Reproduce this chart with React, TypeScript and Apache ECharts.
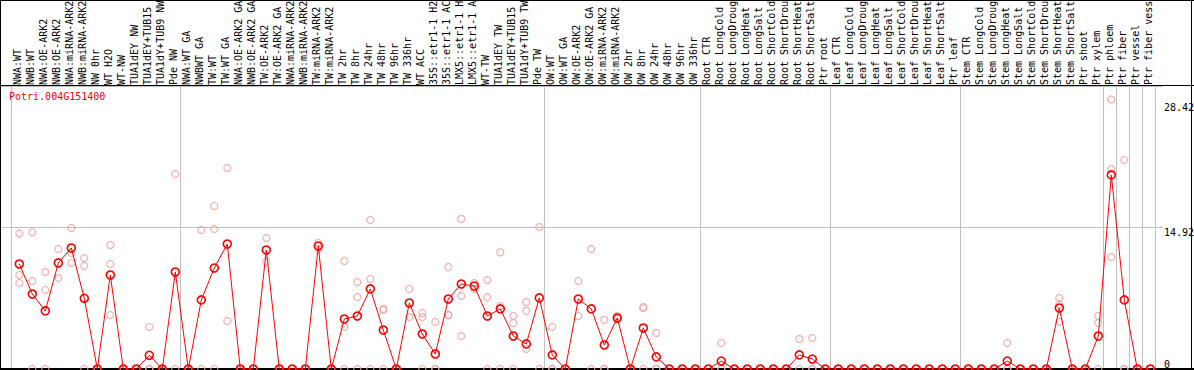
import React, { useEffect, useRef } from "react";
import * as echarts from "echarts";

const geneId = "Potri.004G151400";

const categories = [
  "NWA:WT", "NWB:WT", "NWA:OE-ARK2", "NWB:OE-ARK2", "NWA:miRNA-ARK2", "NWB:miRNA-ARK2",
  "NW 0hr", "WT H2O", "WT-NW", "TUA1dEY NW", "TUA1dEY+TUB15", "TUA1dY+TUB9 NW", "Pde NW",
  "NWA:WT GA", "NWBWT GA", "TW:WT", "TW:WT GA", "NWA:OE-ARK2 GA", "NWB:OE-ARK2 GA",
  "TW:OE-ARK2", "TW:OE-ARK2 GA", "NWA:miRNA-ARK2", "NWB:miRNA-ARK2", "TW:miRNA-ARK2",
  "TW:miRNA-ARK2", "TW 2hr", "TW 8hr", "TW 24hr", "TW 48hr", "TW 96hr", "TW 336hr",
  "WT ACC", "35S::etr1-1 H2", "35S::etr1-1 AC", "LMX5::etr1-1 H", "LMX5::etr1-1 A",
  "WT-TW", "TUA1dEY TW", "TUA1dEY+TUB15", "TUA1dY+TUB9 TW", "Pde TW",
  "OW:WT", "OW:WT GA", "OW:OE-ARK2", "OW:OE-ARK2 GA", "OW:miRNA-ARK2", "OW:miRNA-ARK2",
  "OW 2hr", "OW 8hr", "OW 24hr", "OW 48hr", "OW 96hr", "OW 336hr",
  "Root CTR", "Root LongCold", "Root LongDroug", "Root LongHeat", "Root LongSalt",
  "Root ShortCold", "Root ShortDrou", "Root ShortHeat", "Root ShortSalt", "Ptr root",
  "Leaf CTR", "Leaf LongCold", "Leaf LongDroug", "Leaf LongHeat", "Leaf LongSalt",
  "Leaf ShortCold", "Leaf ShortDrou", "Leaf ShortHeat", "Leaf ShortSalt", "Ptr leaf",
  "Stem CTR", "Stem LongCold", "Stem LongDroug", "Stem LongHeat", "Stem LongSalt",
  "Stem ShortCold", "Stem ShortDrou", "Stem ShortHeat", "Stem ShortSalt", "Ptr shoot",
  "Ptr xylem", "Ptr phloem", "Ptr fiber", "Ptr vessel", "Ptr fiber vess",
];

const meanValues = [
  11.07, 7.91, 6.12, 11.18, 12.76, 7.45, 0, 9.91, 0, 0,
  1.44, 0, 10.23, 0, 7.28, 10.65, 13.18, 0, 0, 12.55,
  0, 0, 0, 12.97, 0, 5.27, 5.59, 8.44, 4.11, 0,
  6.96, 3.69, 1.58, 7.38, 8.96, 8.75, 5.59, 6.33, 3.48, 2.64,
  7.49, 1.48, 0, 7.38, 6.33, 2.53, 5.38, 0, 4.32, 1.27,
  0, 0, 0, 0, 0.84, 0, 0, 0, 0, 0,
  1.48, 1.05, 0, 0, 0, 0, 0, 0, 0, 0,
  0, 0, 0, 0, 0, 0, 0.84, 0, 0, 0,
  6.43, 0, 0, 3.48, 20.46, 7.28, 0, 0,
];

const replicate1 = [
  14.31, 14.41, 10.23, 12.65, 14.87, 11.7, 0, 13.07, 0, 0,
  4.43, 0, 20.56, 0, 14.66, 17.19, 21.19, 0, 0, 13.81,
  0, 0, 0, 13.28, 0, 11.39, 9.17, 15.71, 6.33, 0,
  8.44, 5.9, 4.96, 10.75, 15.82, 9.07, 9.38, 12.3, 5.59, 7.06,
  14.97, 4.43, 0, 9.28, 12.65, 5.17, 5.59, 0, 6.54, 3.8,
  0, 0, 0, 0, 2.74, 0, 0, 0, 0, 0,
  3.16, 3.27, 0, 0, 0, 0, 0, 0, 0, 0,
  0, 0, 0, 0, 0, 0, 2.74, 0, 0, 0,
  7.49, 0, 0, 5.59, 28.42, 22.04, 0, 0,
];

const replicate2 = [
  9.91, 9.28, 8.33, 9.6, 12.23, 10.86, 0, 11.07, 0, 0,
  0, 0, 0, 0, 0, 14.76, 5.06, 0, 0, 11.29,
  0, 0, 0, 12.65, 0, 4.43, 7.59, 9.49, 6.22, 0,
  5.48, 5.48, 0, 5.69, 7.7, 8.44, 7.59, 6.64, 4.85, 6.12,
  0, 0, 0, 5.59, 0, 0, 5.27, 0, 6.43, 0,
  0, 0, 0, 0, 0, 0, 0, 0, 0, 0,
  0, 0, 0, 0, 0, 0, 0, 0, 0, 0,
  0, 0, 0, 0, 0, 0, 0, 0, 0, 0,
  4.96, 0, 0, 4.85, 21.09, 0, 0, 0,
];

const replicate3 = [
  9.07, 0, 0, null, 11.18, 0, 0, 5.69, 0, 0,
  0, null, null, null, null, 0, null, null, null, null,
  null, null, null, null, null, 0, 0, 0, 0, null,
  null, 0, 0, 5.69, 3.48, null, 0, 0, 0, 2.11,
  null, 0, null, null, null, 0, null, null, 0, 0,
  null, null, null, null, 0, null, null, null, null, null,
  null, 0, null, null, null, null, null, null, null, null,
  null, null, null, null, null, null, 0, null, null, null,
  6.8, null, null, 0, 11.81, 0, null, null,
];

// indices of categories that start a new group (vertical separators)
const separatorIndices = [0, 13, 41, 53, 63, 73, 84, 85, 86, 87];
const yMax = 29.84;
const yGridStep = 14.92;
const yMidLabel = [14.92];
const yTopLabel = [28.42];
const yZeroLabel = [0];

const MONO = "'DejaVu Sans Mono', 'Liberation Mono', monospace";
const RED = "#ff0000";
const REP = "#f0a0a0";
const GRID = "#c0c0c0";

export default function App() {
  const ref = useRef<HTMLDivElement>(null);

  useEffect(() => {
    if (!ref.current) return;
    const chart = echarts.init(ref.current, null, { renderer: "svg" });
    const sepSet = new Set(separatorIndices);
    const isSep = (idx: number) => sepSet.has(idx);

    const hiddenValueY = (gridIndex: number) => ({
      gridIndex,
      type: "value",
      min: 0,
      max: yMax,
      show: false,
    });

    const labelAxis = (values: number[], verticalAlign: string, padTop: number) => ({
      gridIndex: 0,
      type: "value",
      min: 0,
      max: yMax,
      position: "right",
      axisLine: { show: false },
      axisTick: { show: false },
      splitLine: { show: false },
      axisLabel: {
        customValues: values,
        verticalAlign,
        padding: [padTop, 0, 0, 0],
        margin: 1,
        fontSize: 10,
        fontFamily: MONO,
        color: "#000",
        formatter: (v: number) => String(v),
      },
    });

    const repSeries = [replicate1, replicate2, replicate3].map((d) => ({
      type: "scatter",
      xAxisIndex: 2,
      yAxisIndex: 5,
      data: d,
      symbol: "circle",
      symbolSize: 7,
      clip: false,
      silent: true,
      itemStyle: { color: "transparent", borderColor: REP, borderWidth: 1.3 },
      z: 3,
    }));

    const option: any = {
      animation: false,
      backgroundColor: "#ffffff",
      textStyle: { fontFamily: MONO },
      title: {
        text: geneId,
        left: 9,
        top: 91,
        padding: 0,
        textStyle: { color: RED, fontSize: 10, fontFamily: MONO, fontWeight: "normal" },
      },
      grid: [
        { left: 1, right: 31, top: 86, bottom: 1, containLabel: false, outerBoundsMode: "none" },
        { left: 11, width: 1144, top: 86, bottom: 1, containLabel: false, outerBoundsMode: "none" },
        { left: 12.8, width: 1144, top: 86, bottom: 1, containLabel: false, outerBoundsMode: "none" },
      ],
      xAxis: [
        { gridIndex: 0, type: "value", min: 0, max: 1, show: false },
        {
          gridIndex: 1,
          type: "category",
          data: categories,
          position: "top",
          boundaryGap: true,
          axisLine: { show: false },
          axisTick: { show: true, interval: isSep, length: 86, lineStyle: { color: GRID, width: 1 } },
          splitLine: { show: true, interval: isSep, lineStyle: { color: GRID, width: 1 } },
          axisLabel: {
            interval: 0,
            rotate: 90,
            margin: 1,
            hideOverlap: false,
            fontSize: 10,
            fontFamily: MONO,
            color: "#000",
          },
        },
        { gridIndex: 2, type: "category", data: categories, boundaryGap: true, show: false },
      ],
      yAxis: [
        {
          gridIndex: 0,
          type: "value",
          min: 0,
          max: yMax,
          interval: yGridStep,
          position: "right",
          axisLine: { show: false },
          axisTick: { show: false },
          axisLabel: { show: false },
          splitLine: { show: true, lineStyle: { color: GRID, width: 1 } },
        },
        labelAxis(yMidLabel, "top", 0),
        labelAxis(yTopLabel, "top", 3),
        labelAxis(yZeroLabel, "bottom", 0),
        hiddenValueY(1),
        hiddenValueY(2),
      ],
      graphic: {
        elements: [
          { type: "line", z: 1, silent: true, shape: { x1: 0, y1: 0.5, x2: 1194, y2: 0.5 }, style: { stroke: "#000", lineWidth: 1 } },
          { type: "line", z: 1, silent: true, shape: { x1: 0, y1: 85.5, x2: 1194, y2: 85.5 }, style: { stroke: "#000", lineWidth: 1 } },
          { type: "line", z: 1, silent: true, shape: { x1: 0, y1: 369, x2: 1194, y2: 369 }, style: { stroke: "#000", lineWidth: 2 } },
          { type: "line", z: 1, silent: true, shape: { x1: 0.5, y1: 0, x2: 0.5, y2: 370 }, style: { stroke: "#000", lineWidth: 1 } },
          { type: "line", z: 1, silent: true, shape: { x1: 1191.5, y1: 0, x2: 1191.5, y2: 370 }, style: { stroke: "#000", lineWidth: 1 } },
        ],
      },
      series: [
        ...repSeries,
        {
          type: "line",
          xAxisIndex: 2,
          yAxisIndex: 5,
          data: meanValues,
          symbol: "circle",
          symbolSize: 8,
          showSymbol: true,
          showAllSymbol: true,
          clip: false,
          silent: true,
          itemStyle: { color: "transparent", borderColor: RED, borderWidth: 1.6 },
          lineStyle: { color: RED, width: 1 },
          z: 4,
        },
      ],
    };

    chart.setOption(option);
    return () => chart.dispose();
  }, []);

  return (
    <div
      ref={ref}
      style={{ position: "fixed", left: 0, top: 0, width: 1194, height: 370, background: "#fff" }}
    />
  );
}
